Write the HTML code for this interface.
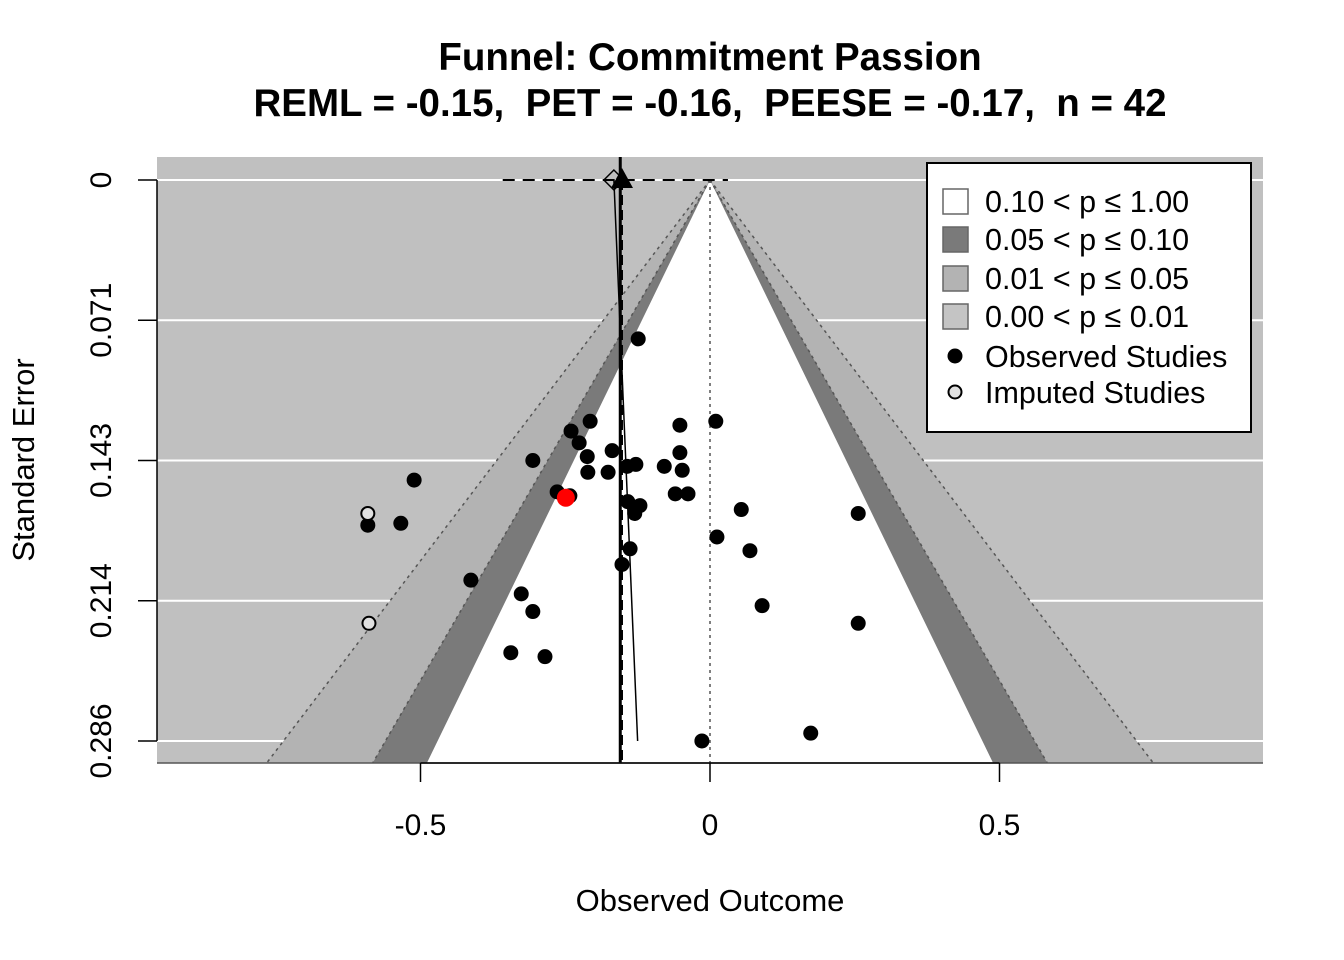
<!DOCTYPE html>
<html><head><meta charset="utf-8"><style>
html,body{margin:0;padding:0;background:#fff;}
svg{display:block;font-family:"Liberation Sans",Arial,sans-serif;}
</style></head><body>
<svg id="chart" width="1344" height="960" viewBox="0 0 1344 960"></svg>
<script>
const obsX=[-0.124,-0.207,-0.240,-0.226,-0.212,-0.169,-0.306,-0.211,-0.176,-0.143,-0.128,-0.079,-0.052,0.010,-0.052,-0.048,-0.511,-0.264,-0.242,-0.060,-0.038,-0.142,-0.121,-0.130,0.054,0.256,-0.591,-0.534,0.012,-0.138,0.069,-0.152,-0.413,-0.326,-0.306,0.090,0.256,-0.344,-0.285,0.174,-0.014];
const obsSE=[0.081,0.123,0.128,0.134,0.141,0.138,0.143,0.149,0.149,0.146,0.145,0.146,0.125,0.123,0.139,0.148,0.153,0.159,0.161,0.160,0.160,0.164,0.166,0.170,0.168,0.170,0.176,0.175,0.182,0.188,0.189,0.196,0.204,0.211,0.220,0.217,0.226,0.241,0.243,0.282,0.286];
const highlightX=[-0.249];
const highlightSE=[0.162];
const impX=[-0.591,-0.589];
const impSE=[0.170,0.226];
const xTicks=[-0.5,0,0.5];
const xTickLabels=["-0.5","0","0.5"];
const yTicks=[0,0.0715,0.143,0.2145,0.286];
const yTickLabels=["0","0.071","0.143","0.214","0.286"];
const reml=-0.155, pet=-0.152, peese=-0.166, peeseBottom=-0.125, ciLo=-0.358, ciHi=0.031;

const NS="http://www.w3.org/2000/svg";
const svg=document.getElementById('chart');
const L=157,R=1263,T=157,B=763;
const sx=v=>710+579*v;
const sy=s=>180+1961.5*s;
const seMax=(B-180)/1961.5;
function el(tag,attrs,parent){const e=document.createElementNS(NS,tag);for(const k in attrs)e.setAttribute(k,attrs[k]);(parent||svg).appendChild(e);return e;}

const defs=el('defs',{});
const cp=el('clipPath',{id:'pc'},defs);
el('rect',{x:L,y:T,width:R-L,height:B-T},cp);

const bg=el('rect',{x:L,y:T,width:R-L,height:B-T,fill:'#c0c0c0'});



const grid=el('g',{});


yTicks.forEach(t=>{el('line',{x1:L,x2:R,y1:sy(t),y2:sy(t),stroke:'#fff','stroke-width':2},grid);});

const fg=el('g',{'clip-path':'url(#pc)'});


function tri(z,fill,name){const p=el('polygon',{points:`${sx(0)},${sy(0)} ${sx(-z*seMax)},${B} ${sx(z*seMax)},${B}`,fill:fill},fg);
}
tri(2.576,'#b3b3b3','contour-p01-05');
tri(1.96,'#7a7a7a','contour-p05-10');
tri(1.645,'#ffffff','contour-p10-100');
[2.576,1.96].forEach(z=>{[-1,1].forEach(sg=>{el('line',{x1:sx(0),y1:sy(0),x2:sx(sg*z*seMax),y2:B,stroke:'#555','stroke-width':1.5,'stroke-dasharray':'3,4'},fg);});});
el('line',{x1:sx(0),y1:sy(0),x2:sx(0),y2:B,stroke:'#555','stroke-width':1.5,'stroke-dasharray':'3,4'},fg);

const lines=el('g',{'clip-path':'url(#pc)'});


el('line',{x1:sx(ciLo),x2:sx(ciHi),y1:sy(0),y2:sy(0),stroke:'#000','stroke-width':2,'stroke-dasharray':'12,8'},lines);
el('line',{x1:sx(reml),x2:sx(reml),y1:T,y2:B,stroke:'#000','stroke-width':3},lines);
el('line',{x1:sx(pet),x2:sx(pet),y1:sy(0),y2:B,stroke:'#000','stroke-width':2,'stroke-dasharray':'10,5'},lines);
el('line',{x1:sx(peese),x2:sx(peeseBottom),y1:sy(0),y2:sy(0.286),stroke:'#000','stroke-width':1.5},lines);
const dm=el('polygon',{points:`${sx(peese)-10},${sy(0)} ${sx(peese)},${sy(0)-10} ${sx(peese)+10},${sy(0)} ${sx(peese)},${sy(0)+10}`,fill:'none',stroke:'#000','stroke-width':1.5});

const tr=el('polygon',{points:`${sx(pet)},${sy(0)-12} ${sx(pet)+11},${sy(0)+8} ${sx(pet)-11},${sy(0)+8}`,fill:'#000'});


const pts=el('g',{});


obsX.forEach((v,i)=>{const c=el('circle',{cx:sx(v),cy:sy(obsSE[i]),r:7.5,fill:'#000'},pts);

});
impX.forEach((v,i)=>{const c=el('circle',{cx:sx(v),cy:sy(impSE[i]),r:6.5,fill:'#e0e0e0',stroke:'#000','stroke-width':2},pts);

});
highlightX.forEach((v,i)=>{const c=el('circle',{cx:sx(v),cy:sy(highlightSE[i]),r:9,fill:'#ff0000'},pts);

});

// axes
const ya=el('g',{});

el('line',{x1:L,x2:L,y1:sy(yTicks[0]),y2:sy(yTicks[yTicks.length-1]),stroke:'#000','stroke-width':1.5},ya);
yTicks.forEach((t,i)=>{el('line',{x1:L-19,x2:L,y1:sy(t),y2:sy(t),stroke:'#000','stroke-width':1.5},ya);
const tx=el('text',{x:0,y:0,'font-size':30,'text-anchor':'middle',transform:`translate(111,${sy(t)}) rotate(-90)`},ya);tx.textContent=yTickLabels[i];});
el('line',{x1:L,x2:R,y1:B,y2:B,stroke:'#555','stroke-width':1.5});
const xa=el('g',{});

el('line',{x1:sx(xTicks[0]),x2:sx(xTicks[xTicks.length-1]),y1:B,y2:B,stroke:'#000','stroke-width':1.5},xa);
xTicks.forEach((t,i)=>{el('line',{x1:sx(t),x2:sx(t),y1:B,y2:B+19,stroke:'#000','stroke-width':1.5},xa);
const tx=el('text',{x:sx(t),y:835,'font-size':30,'text-anchor':'middle'},xa);tx.textContent=xTickLabels[i];});

const xt=el('text',{x:710,y:911,'font-size':31,'text-anchor':'middle'});xt.textContent='Observed Outcome';

const yt=el('text',{x:0,y:0,'font-size':31,'text-anchor':'middle',transform:'translate(34,460) rotate(-90)'});yt.textContent='Standard Error';

const t1=el('text',{x:710,y:70,'font-size':38.5,'font-weight':'bold','text-anchor':'middle'});t1.textContent='Funnel: Commitment Passion';

const t2=el('text',{x:710,y:116,'font-size':38.5,'font-weight':'bold','text-anchor':'middle',style:'white-space:pre'});t2.textContent='REML = -0.15,  PET = -0.16,  PEESE = -0.17,  n = 42';


// legend
const lg=el('g',{});

el('rect',{x:927,y:163,width:324,height:269,fill:'#fff',stroke:'#000','stroke-width':2},lg);
const sw=[['#ffffff','0.10 < p ≤ 1.00'],['#7a7a7a','0.05 < p ≤ 0.10'],['#b3b3b3','0.01 < p ≤ 0.05'],['#c4c4c4','0.00 < p ≤ 0.01']];
const rowsY=[201,239,278,316];
sw.forEach((s,i)=>{const g=el('g',{},lg);
el('rect',{x:943,y:rowsY[i]-12,width:25,height:25,fill:s[0],stroke:'#666','stroke-width':1.5},g);
const tx=el('text',{x:985,y:rowsY[i]+11,'font-size':30.5},g);tx.textContent=s[1];});
const g1=el('g',{},lg);
el('circle',{cx:955,cy:356,r:7.5,fill:'#000'},g1);
const o1=el('text',{x:985,y:367,'font-size':30.5},g1);o1.textContent='Observed Studies';
const g2=el('g',{},lg);
el('circle',{cx:955,cy:392,r:6.5,fill:'#e0e0e0',stroke:'#000','stroke-width':2},g2);
const o2=el('text',{x:985,y:403,'font-size':30.5},g2);o2.textContent='Imputed Studies';
</script>
</body></html>
